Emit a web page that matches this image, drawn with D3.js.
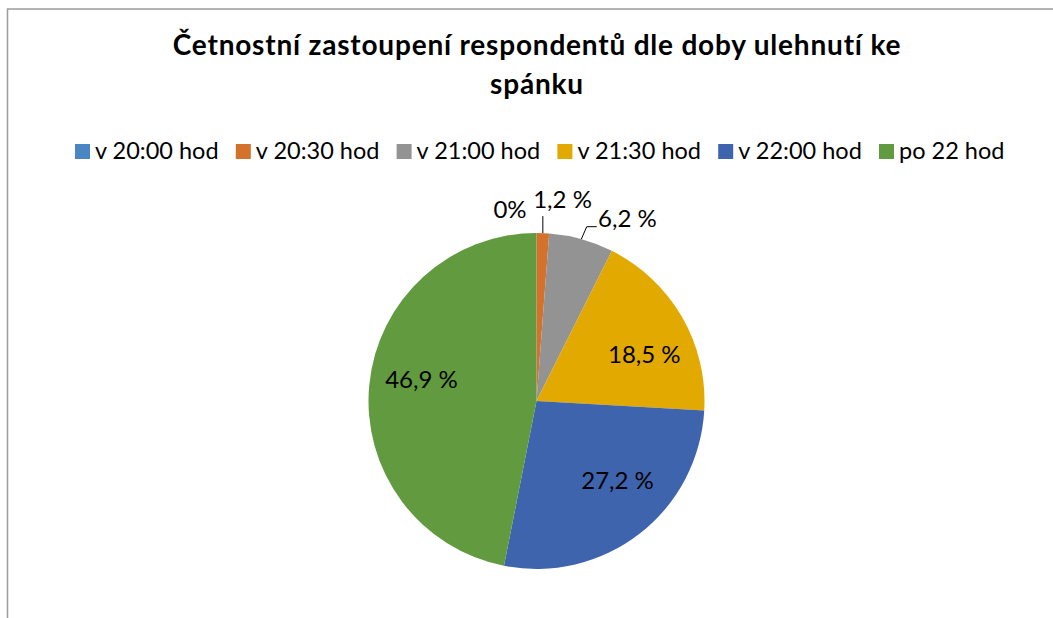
<!DOCTYPE html>
<html>
<head>
<meta charset="utf-8">
<script src="https://cdn.jsdelivr.net/npm/d3@7"></script>
<style>
  html, body { margin: 0; padding: 0; background: #ffffff; }
  svg { display: block; }
  text { font-family: Lato, "Open Sans", sans-serif; fill: #000000; }
</style>
</head>
<body>
<svg id="chart" width="1053" height="618"></svg>
<script>
// Bedtime categories and their share of respondents (%)
const categories = ["v 20:00 hod", "v 20:30 hod", "v 21:00 hod", "v 21:30 hod", "v 22:00 hod", "po 22 hod"];
const shares = [0, 1.2, 6.2, 18.5, 27.2, 46.9];
const shareLabels = ["0%", "1,2 %", "6,2 %", "18,5 %", "27,2 %", "46,9 %"];
const colors = ["#4a86c4", "#d4712b", "#939393", "#e2a900", "#3d64ad", "#629a40"];
const titleLines = ["Četnostní zastoupení respondentů dle doby ulehnutí ke", "spánku"];

const cx = 536.5, cy = 401, radius = 168;

const svg = d3.select("#chart");

// chart frame
svg.append("rect")
  .attr("x", 7.5).attr("y", 9)
  .attr("width", 1200).attr("height", 800)
  .attr("fill", "none")
  .attr("stroke", "#9c9c9c")
  .attr("stroke-width", 1.5);

// title
svg.append("g").selectAll("text")
  .data(titleLines)
  .join("text")
  .attr("x", 537)
  .attr("y", (d, i) => 55 + i * 39)
  .attr("text-anchor", "middle")
  .attr("font-size", 28)
  .attr("letter-spacing", 0.8)
  .attr("font-weight", 700)
  .text(d => d);

// legend: equal-width slots across the top
const legendX = d3.scaleBand().domain(categories).range([75, 75 + 6 * 160.8]);
const legend = svg.append("g").selectAll("g")
  .data(categories)
  .join("g")
  .attr("transform", d => `translate(${legendX(d)},144)`);
legend.append("rect")
  .attr("width", 15).attr("height", 15)
  .attr("fill", (d, i) => colors[i]);
legend.append("text")
  .attr("x", 20).attr("y", 15)
  .attr("font-size", 23.5)
  .text(d => d);

// pie
const pie = d3.pie().sort(null).value(d => d.value);
const arcs = pie(categories.map((c, i) => ({ cat: c, value: shares[i], label: shareLabels[i], color: colors[i] })));
const arc = d3.arc().innerRadius(0).outerRadius(radius);
const labelArc = d3.arc().innerRadius(radius * 0.7).outerRadius(radius * 0.7);
const edgeArc = d3.arc().innerRadius(radius).outerRadius(radius);

const g = svg.append("g").attr("transform", `translate(${cx},${cy})`);
g.selectAll("path")
  .data(arcs)
  .join("path")
  .attr("d", arc)
  .attr("fill", d => d.data.color);

// small slices get outside labels with leader lines
const outsideLayout = {
  "v 20:00 hod": { dx: -26.5, dy: -14.7, anchor: "middle", leader: null },
  "v 20:30 hod": { dx: 19.7, dy: -25, anchor: "middle", leader: [[0, 0], [0, -17]] },
  "v 21:00 hod": { dx: 16.7, dy: -12, anchor: "start", leader: [[0, 0], [5.4, -12.4], [15.4, -12.4]] }
};
// fine offsets for inside labels (best-fit placement)
const insideNudge = {
  "v 21:30 hod": [6, 12],
  "v 22:00 hod": [9, -13],
  "po 22 hod": [2, -10]
};

const line = d3.line();
arcs.forEach(d => {
  const lay = outsideLayout[d.data.cat];
  if (lay) {
    const [ex, ey] = edgeArc.centroid(d);
    if (lay.leader) {
      g.append("path")
        .attr("d", line(lay.leader.map(p => [ex + p[0], ey + p[1]])))
        .attr("fill", "none")
        .attr("stroke", "#000")
        .attr("stroke-width", 1);
    }
    g.append("text")
      .attr("x", ex + lay.dx)
      .attr("y", ey + lay.dy)
      .attr("text-anchor", lay.anchor)
      .attr("font-size", 24)
      .text(d.data.label);
  } else {
    const [lx, ly] = labelArc.centroid(d);
    const n = insideNudge[d.data.cat] || [0, 0];
    g.append("text")
      .attr("x", lx + n[0])
      .attr("y", ly + n[1])
      .attr("dy", "0.35em")
      .attr("text-anchor", "middle")
      .attr("font-size", 24)
      .text(d.data.label);
  }
});
</script>
</body>
</html>
